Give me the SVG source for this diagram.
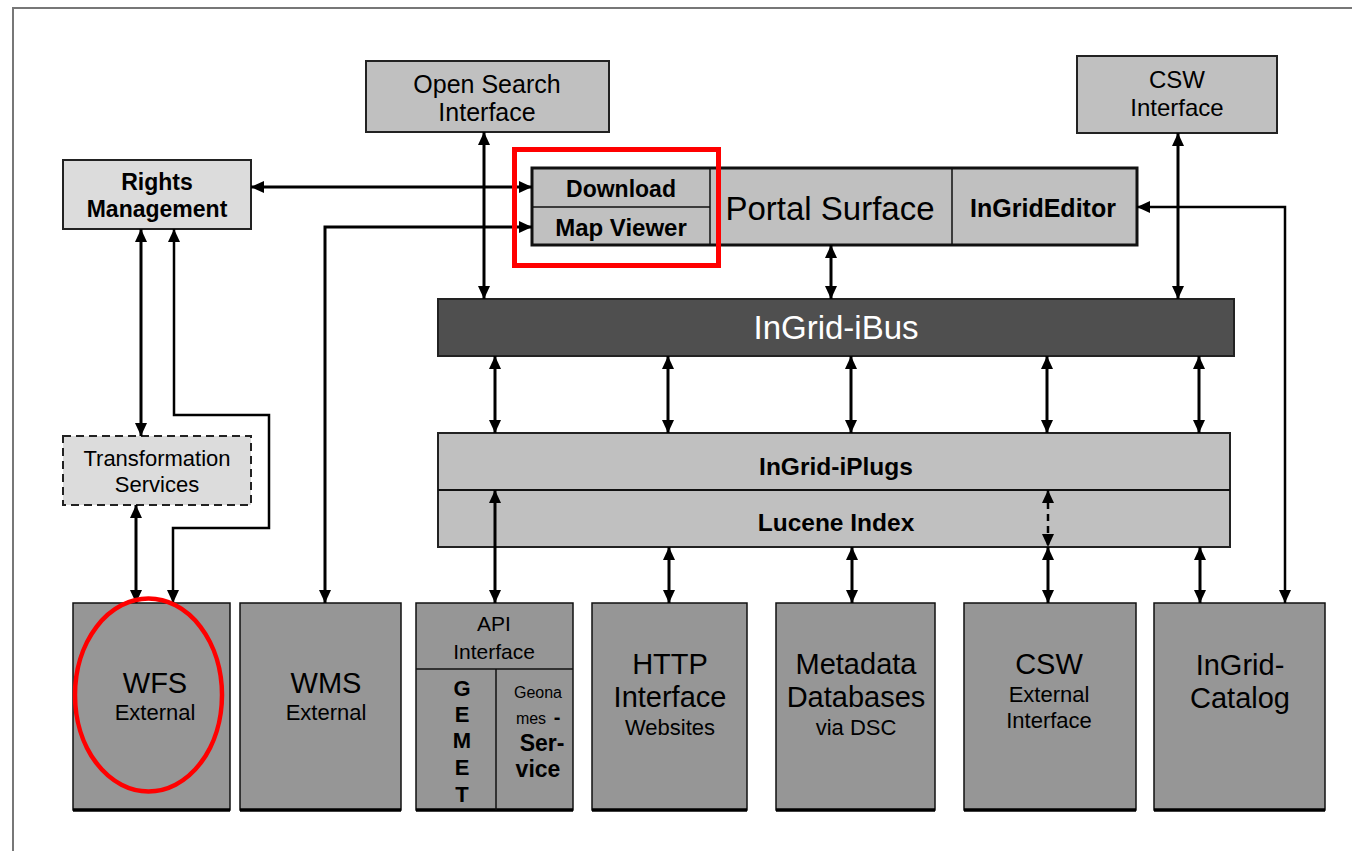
<svg xmlns="http://www.w3.org/2000/svg" width="1352" height="851" viewBox="0 0 1352 851">
<defs>
<style>
text{font-family:"Liberation Sans",Arial,sans-serif;text-anchor:middle;dominant-baseline:central;fill:#000}
.b{font-weight:bold}
.box{fill:#c0c0c0;stroke:#222;stroke-width:2}
.lbox{fill:#dcdcdc;stroke:#222;stroke-width:2}
.dbox{fill:#969696;stroke:#111;stroke-width:1.5}
.shadow{stroke:#000;stroke-width:3.5}
.c{fill:none;stroke:#000;stroke-width:3;marker-start:url(#ah);marker-end:url(#ah)}
.div{stroke:#111;stroke-width:1.5}
</style>
<marker id="ah" markerUnits="userSpaceOnUse" markerWidth="13" markerHeight="13" refX="13" refY="6.5" orient="auto-start-reverse" viewBox="0 0 13 13">
<path d="M0,0.5 L13,6.5 L0,12.5 z" fill="#000"/>
</marker>
</defs>
<rect width="1352" height="851" fill="#fff"/>
<path d="M13,851 L13,8 L1352,8" fill="none" stroke="#777" stroke-width="2"/>

<g id="open-search">
<rect class="box" x="366" y="61" width="243" height="71"/>
<text x="487" y="84" font-size="25">Open Search</text>
<text x="487" y="112" font-size="25">Interface</text>
</g>

<g id="csw-interface">
<rect class="box" x="1077" y="56" width="200" height="77"/>
<text x="1177" y="79" font-size="24">CSW</text>
<text x="1177" y="107" font-size="24">Interface</text>
</g>

<g id="rights-management">
<rect class="lbox" x="63" y="160" width="188" height="69"/>
<text class="b" x="157" y="182" font-size="23">Rights</text>
<text class="b" x="157" y="209" font-size="23">Management</text>
</g>

<g id="portal">
<rect x="532" y="168" width="605" height="77" fill="#c0c0c0" stroke="#111" stroke-width="3"/>
<line class="div" x1="532" y1="207" x2="710" y2="207"/>
<line class="div" x1="710" y1="168" x2="710" y2="245"/>
<line class="div" x1="952" y1="168" x2="952" y2="245"/>
<text class="b" x="621" y="189" font-size="23">Download</text>
<text class="b" x="621" y="227" font-size="24">Map Viewer</text>
<text x="830" y="208" font-size="33">Portal Surface</text>
<text class="b" x="1043" y="208" font-size="25">InGridEditor</text>
</g>

<g id="ibus">
<rect x="438" y="299" width="796" height="57" fill="#4f4f4f" stroke="#222" stroke-width="2"/>
<text x="836" y="327" font-size="33" style="fill:#fff">InGrid-iBus</text>
</g>

<g id="iplugs">
<rect class="box" x="438" y="433" width="792" height="114"/>
<line class="div" x1="438" y1="490" x2="1230" y2="490" style="stroke-width:2"/>
<text class="b" x="836" y="466" font-size="24.5">InGrid-iPlugs</text>
<text class="b" x="836" y="522" font-size="24.5">Lucene Index</text>
</g>

<g id="transformation">
<rect class="lbox" x="63" y="436" width="188" height="69" style="stroke-dasharray:8,5"/>
<text x="157" y="458" font-size="22">Transformation</text>
<text x="157" y="484" font-size="22">Services</text>
</g>

<g id="wfs">
<rect class="dbox" x="73" y="603" width="157" height="207"/>
<line class="shadow" x1="73" y1="810" x2="230" y2="810"/>
<text x="155" y="683" font-size="29">WFS</text>
<text x="155" y="712" font-size="22">External</text>
</g>

<g id="wms">
<rect class="dbox" x="240" y="603" width="161" height="207"/>
<line class="shadow" x1="240" y1="810" x2="401" y2="810"/>
<text x="326" y="683" font-size="29">WMS</text>
<text x="326" y="712" font-size="22">External</text>
</g>

<g id="api">
<rect class="dbox" x="416" y="603" width="157" height="207"/>
<line class="shadow" x1="416" y1="810" x2="573" y2="810"/>
<line class="div" x1="416" y1="669" x2="573" y2="669"/>
<line class="div" x1="496" y1="669" x2="496" y2="810"/>
<text x="494" y="623" font-size="21">API</text>
<text x="494" y="651" font-size="21">Interface</text>
<text class="b" x="462" y="688" font-size="22">G</text>
<text class="b" x="462" y="714" font-size="22">E</text>
<text class="b" x="462" y="740" font-size="22">M</text>
<text class="b" x="462" y="767" font-size="22">E</text>
<text class="b" x="462" y="794" font-size="22">T</text>
<text x="538" y="692" font-size="16">Geona</text>
<text x="531" y="718" font-size="16">mes</text>
<text class="b" x="557" y="717" font-size="20">-</text>
<text class="b" x="542" y="743" font-size="23">Ser-</text>
<text class="b" x="538" y="769" font-size="23">vice</text>
</g>

<g id="http">
<rect class="dbox" x="592" y="603" width="155" height="207"/>
<line class="shadow" x1="592" y1="810" x2="747" y2="810"/>
<text x="670" y="664" font-size="29">HTTP</text>
<text x="670" y="697" font-size="29">Interface</text>
<text x="670" y="727" font-size="22">Websites</text>
</g>

<g id="metadata">
<rect class="dbox" x="776" y="603" width="159" height="207"/>
<line class="shadow" x1="776" y1="810" x2="935" y2="810"/>
<text x="856" y="664" font-size="29">Metadata</text>
<text x="856" y="697" font-size="29">Databases</text>
<text x="856" y="727" font-size="22">via DSC</text>
</g>

<g id="csw-external">
<rect class="dbox" x="964" y="603" width="172" height="207"/>
<line class="shadow" x1="964" y1="810" x2="1136" y2="810"/>
<text x="1049" y="664" font-size="29">CSW</text>
<text x="1049" y="694" font-size="22">External</text>
<text x="1049" y="720" font-size="22">Interface</text>
</g>

<g id="catalog">
<rect class="dbox" x="1154" y="603" width="171" height="207"/>
<line class="shadow" x1="1154" y1="810" x2="1325" y2="810"/>
<text x="1240" y="665" font-size="29">InGrid-</text>
<text x="1240" y="698" font-size="29">Catalog</text>
</g>

<g id="connectors">
<path class="c" d="M251,187 L532,187"/>
<path class="c" d="M325,603 L325,227 L532,227"/>
<path class="c" d="M484,132 L484,299"/>
<path class="c" d="M831,245 L831,299"/>
<path class="c" d="M1178,133 L1178,299"/>
<path class="c" d="M1285,603 L1285,207 L1137,207" style="stroke-width:2.5"/>
<path class="c" d="M495,356 L495,433"/>
<path class="c" d="M668,356 L668,433"/>
<path class="c" d="M851,356 L851,433"/>
<path class="c" d="M1047,356 L1047,433"/>
<path class="c" d="M1199,356 L1199,433"/>
<path class="c" d="M495,490 L495,603"/>
<path class="c" d="M669,547 L669,603"/>
<path class="c" d="M852,547 L852,603"/>
<path class="c" d="M1048,547 L1048,603"/>
<path class="c" d="M1200,547 L1200,603"/>
<path class="c" d="M1048,490 L1048,547" style="stroke-dasharray:7,5;stroke-width:2.5"/>
<path class="c" d="M141,229 L141,436"/>
<path class="c" d="M174,229 L174,415 L269,415 L269,528 L173,528 L173,603" style="stroke-width:2.5"/>
<path class="c" d="M136,505 L136,603"/>
</g>

<g id="highlight-rect">
<rect x="514.5" y="149.5" width="204" height="116" fill="none" stroke="#f00" stroke-width="5"/>
</g>

<g id="wfs-highlight">
<ellipse cx="148.5" cy="695" rx="73.5" ry="96.5" fill="none" stroke="#f00" stroke-width="4.5"/>
</g>
</svg>
